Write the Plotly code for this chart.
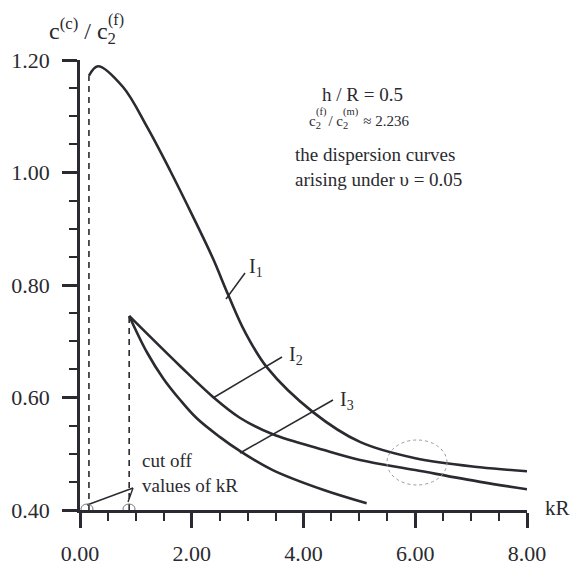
import plotly.graph_objects as go

# ---- data ----
i1_x = [0.16, 0.32, 0.77, 1.20, 1.61, 2.02, 2.38, 2.65, 2.95, 3.35, 4.17, 5.01, 6.00, 7.16, 8.00]
i1_y = [1.172, 1.189, 1.152, 1.081, 1.004, 0.922, 0.847, 0.783, 0.717, 0.653, 0.574, 0.521, 0.492, 0.476, 0.469]

i2_x = [0.88, 1.79, 2.38, 2.86, 3.44, 4.35, 5.01, 6.00, 7.16, 8.00]
i2_y = [0.745, 0.656, 0.601, 0.564, 0.535, 0.507, 0.489, 0.471, 0.450, 0.437]

i3_x = [0.88, 1.20, 1.49, 1.79, 2.09, 2.50, 2.86, 3.45, 4.35, 5.13]
i3_y = [0.745, 0.680, 0.634, 0.596, 0.563, 0.530, 0.505, 0.471, 0.436, 0.412]

cutoff_x = [0.16, 0.88]
cutoff_top = [1.172, 0.745]

x_ticks = [0, 2, 4, 6, 8]
x_ticklabels = ["0.00", "2.00", "4.00", "6.00", "8.00"]
y_ticks = [0.4, 0.6, 0.8, 1.0, 1.2]
y_ticklabels = ["0.40", "0.60", "0.80", "1.00", "1.20"]

INK = "#2a2a30"
FONT = "Liberation Serif"

# target plot-area pixels on the page (body margin removed via post_script)
L, R, T, B = 80, 527, 60, 510
W, H = 571, 565

# pixel -> data (for shapes) and pixel -> paper (for annotations); layout placement only
def PX(px):
    return (px - L) / (R - L) * 8.0
def PY(py):
    return 0.4 + (B - py) / (B - T) * 0.8
def QX(px):
    return (px - L) / (R - L)
def QY(py):
    return (B - py) / (B - T)

fig = go.Figure()

for cx, ct in zip(cutoff_x, cutoff_top):
    fig.add_trace(go.Scatter(x=[cx, cx], y=[0.40, ct], mode="lines",
                             line=dict(color=INK, width=1.6, dash="6px,5px"),
                             showlegend=False, hoverinfo="skip", cliponaxis=False))

for xs, ys in [(i1_x, i1_y), (i2_x, i2_y), (i3_x, i3_y)]:
    fig.add_trace(go.Scatter(x=xs, y=ys, mode="lines",
                             line=dict(color=INK, width=2.6, shape="spline", smoothing=1.0),
                             showlegend=False, hoverinfo="skip", cliponaxis=False))

shapes = []
# leader lines to curve labels
for (x0, y0, x1, y1) in [(PX(226), PY(299), PX(245), PY(273)),
                         (PX(213), PY(398), PX(282), PY(357)),
                         (PX(240), PY(453), PX(333), PY(400))]:
    shapes.append(dict(type="line", x0=x0, y0=y0, x1=x1, y1=y1, xref="x", yref="y",
                       line=dict(color=INK, width=1.5)))
# cut-off pointers
for (x0, y0, x1, y1) in [(PX(133), PY(488), PX(87), PY(505)),
                         (PX(133), PY(488), PX(128), PY(502))]:
    shapes.append(dict(type="line", x0=x0, y0=y0, x1=x1, y1=y1, xref="x", yref="y",
                       line=dict(color=INK, width=1.4)))
for cxp in [87, 129]:
    shapes.append(dict(type="circle", x0=PX(cxp - 6), x1=PX(cxp + 6), y0=PY(514), y1=PY(504),
                       xref="x", yref="y", line=dict(color="#777", width=1)))
# dashed ellipse
shapes.append(dict(type="circle", x0=PX(387), x1=PX(447), y0=PY(485), y1=PY(440),
                   xref="x", yref="y", line=dict(color="#999", width=1, dash="dot")))

ann = []
def add(text, px, py, size, xanchor="left", yanchor="middle", align="left"):
    ann.append(dict(text=text, x=QX(px), y=QY(py), xref="paper", yref="paper", showarrow=False,
                    xanchor=xanchor, yanchor=yanchor, align=align,
                    font=dict(family=FONT, size=size, color=INK)))

NB = "\u00a0"
# axis title  c^(c) / c_2^(f)  (superscript stacked over the subscript)
add("c<sup>(c)</sup> / c<sub>2</sub>", 47, 31, 24)
add("(f)", 106, 20, 16)

add("h / R = 0.5", 320, 95, 19)
# c_2^(f) / c_2^(m) ≈ 2.236  with stacked indices
add("c<sub>2</sub>" + NB * 2 + "/ c<sub>2</sub>" + NB * 3 + " ≈ 2.236", 307, 122, 15)
add("(f)", 314, 112, 10.5)
add("(m)", 341, 112, 10.5)

add("the dispersion curves<br>arising under υ = 0.05", 293, 167, 19)
add("I<sub>1</sub>", 247, 267, 20)
add("I<sub>2</sub>", 287, 355, 20)
add("I<sub>3</sub>", 338, 400, 20)
add("cut off<br>values of kR", 140, 473, 19)
add("kR", 543, 508, 21)

axis_common = dict(showline=True, linecolor=INK, linewidth=2.5, ticks="outside",
                   ticklen=15, tickwidth=2.5, tickcolor=INK, showgrid=False, zeroline=False,
                   automargin=False, tickfont=dict(family=FONT, size=22, color=INK))

fig.update_layout(
    width=W, height=H, autosize=False,
    margin=dict(l=L, r=W - R, t=T, b=H - B, pad=0),
    paper_bgcolor="white", plot_bgcolor="white",
    xaxis=dict(range=[0, 8], tickvals=x_ticks, ticktext=x_ticklabels,
               minor=dict(dtick=0.5, tick0=0, ticklen=8, tickwidth=2.2, tickcolor=INK, ticks="outside"),
               ticklabelstandoff=7, **axis_common),
    yaxis=dict(range=[0.4, 1.2], tickvals=y_ticks, ticktext=y_ticklabels,
               minor=dict(dtick=0.05, tick0=0.4, ticklen=8, tickwidth=2.2, tickcolor=INK, ticks="outside"),
               ticklabelstandoff=8, **axis_common),
    shapes=shapes, annotations=ann,
)

fig.write_html("out.html", config={"displayModeBar": False},
               post_script="document.body.style.margin='0';document.documentElement.style.overflow='hidden';")
